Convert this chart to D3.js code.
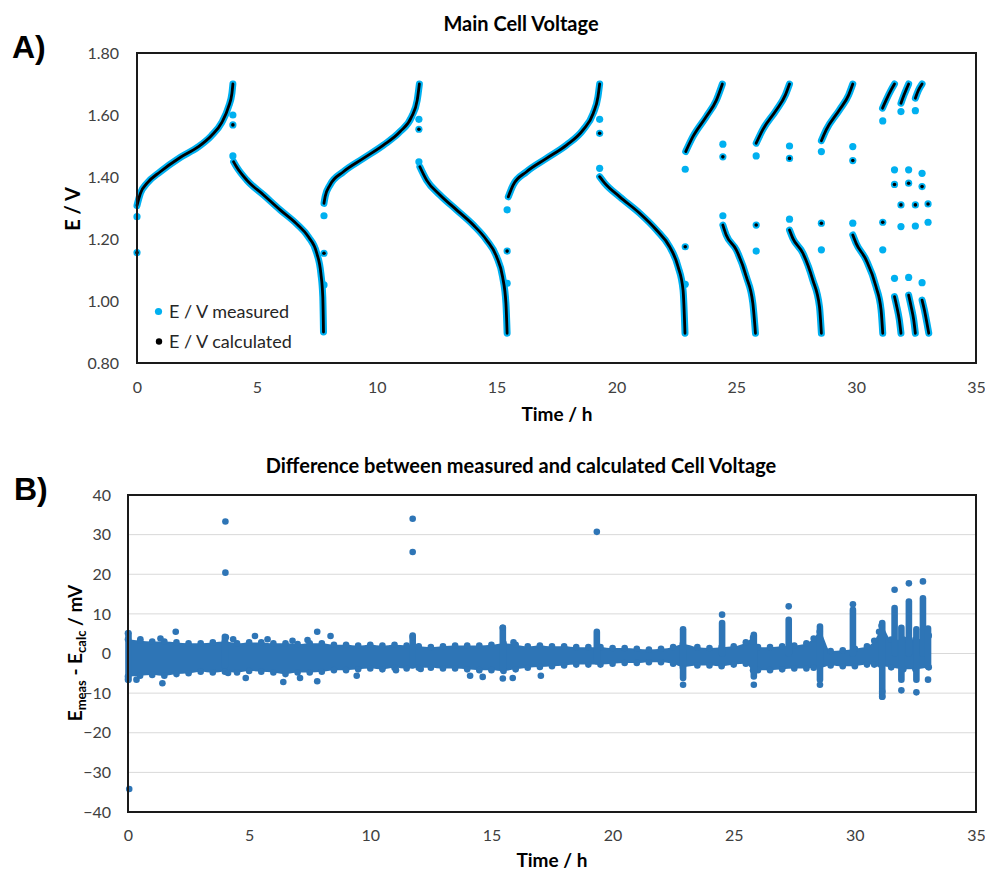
<!DOCTYPE html>
<html>
<head>
<meta charset="utf-8">
<script src="https://cdn.jsdelivr.net/npm/d3@7"></script>
<style>
  html, body { margin: 0; padding: 0; background: #fff; }
  svg { display: block; font-family: Lato, "Open Sans", sans-serif; }
</style>
</head>
<body>
<svg id="chart" width="985" height="871"></svg>
<script>
// ---------------- DATA ----------------
const xTicks = [0, 5, 10, 15, 20, 25, 30, 35];
const yTicksTop = [0.8, 1.0, 1.2, 1.4, 1.6, 1.8];
const yTicksBottom = [-40, -30, -20, -10, 0, 10, 20, 30, 40];

// Panel A: voltage curves (time h, E V)
const chargeCurves = [
  [[0,1.308],[0.14,1.347],[0.42,1.38],[0.97,1.417],[1.8,1.463],[2.55,1.497],[3.1,1.533],[3.54,1.576],[3.82,1.627],[3.96,1.67],[4.0,1.70]],
  [[7.8,1.315],[7.85,1.337],[8.05,1.374],[8.61,1.417],[9.44,1.46],[10.28,1.503],[10.97,1.546],[11.46,1.595],[11.69,1.648],[11.78,1.70]],
  [[15.49,1.336],[15.69,1.374],[16.25,1.417],[17.08,1.46],[17.92,1.503],[18.61,1.552],[19.03,1.605],[19.23,1.659],[19.3,1.70]],
  [[22.89,1.482],[23.19,1.53],[23.75,1.595],[24.17,1.648],[24.42,1.70]],
  [[25.83,1.509],[26.1,1.552],[26.67,1.616],[27.05,1.665],[27.22,1.70]],
  [[28.55,1.517],[28.75,1.552],[29.3,1.616],[29.69,1.665],[29.86,1.70]],
  [[31.1,1.622],[31.25,1.648],[31.46,1.681],[31.6,1.70]],
  [[31.87,1.638],[32.0,1.665],[32.19,1.70]],
  [[32.47,1.654],[32.6,1.68],[32.75,1.70]]
];
const dischargeCurves = [
  [[4.03,1.449],[4.15,1.433],[4.58,1.39],[5.28,1.342],[5.97,1.294],[6.67,1.248],[7.15,1.207],[7.5,1.154],[7.67,1.089],[7.75,1.014],[7.78,0.90]],
  [[11.8,1.433],[12.08,1.39],[12.64,1.342],[13.33,1.294],[14.03,1.245],[14.58,1.197],[15.0,1.143],[15.25,1.078],[15.39,0.993],[15.44,0.896]],
  [[19.3,1.401],[19.51,1.38],[20.14,1.336],[20.97,1.283],[21.67,1.229],[22.22,1.175],[22.57,1.111],[22.78,1.035],[22.86,0.896]],
  [[24.44,1.245],[24.58,1.213],[25.0,1.165],[25.42,1.078],[25.69,0.993],[25.8,0.896]],
  [[27.22,1.229],[27.36,1.202],[27.78,1.154],[28.19,1.068],[28.47,0.982],[28.55,0.896]],
  [[29.86,1.213],[30.0,1.186],[30.42,1.132],[30.83,1.046],[31.04,0.971],[31.11,0.896]],
  [[31.6,1.014],[31.7,0.98],[31.8,0.94],[31.87,0.896]],
  [[32.19,1.019],[32.3,0.98],[32.4,0.94],[32.47,0.896]],
  [[32.75,1.003],[32.85,0.97],[32.95,0.93],[33.03,0.896]]
];
// isolated points (rest / current-interruption points)
const restMeasured = [
  [0,1.272],[0,1.156],
  [4.0,1.60],[4.0,1.568],[4.0,1.468],
  [7.8,1.052],[7.8,1.154],[7.8,1.275],
  [11.76,1.586],[11.76,1.554],[11.76,1.449],
  [15.44,1.057],[15.44,1.161],[15.44,1.294],
  [19.3,1.586],[19.3,1.541],[19.3,1.428],
  [22.87,1.054],[22.87,1.175],[22.87,1.425],
  [24.44,1.506],[24.44,1.465],[24.44,1.275],
  [25.83,1.161],[25.83,1.245],[25.83,1.468],
  [27.22,1.50],[27.22,1.46],[27.22,1.264],
  [28.55,1.165],[28.55,1.251],[28.55,1.482],
  [29.86,1.498],[29.86,1.453],[29.86,1.251],
  [31.11,1.165],[31.11,1.254],[31.11,1.581],
  [31.6,1.423],[31.6,1.376],[31.6,1.073],
  [31.87,1.240],[31.87,1.310],[31.87,1.611],
  [32.19,1.423],[32.19,1.380],[32.19,1.076],
  [32.47,1.242],[32.47,1.310],[32.47,1.614],
  [32.75,1.412],[32.75,1.369],[32.75,1.059],
  [33.0,1.313],[33.0,1.254]
];
const restCalculated = [
  [0,1.156],[4.0,1.568],[7.8,1.154],[11.76,1.554],[15.44,1.161],[19.3,1.541],
  [22.87,1.175],[24.44,1.465],[25.83,1.245],[27.22,1.46],[28.55,1.251],[29.86,1.453],
  [31.11,1.254],[31.6,1.376],[31.87,1.310],[32.19,1.380],[32.47,1.310],[32.75,1.369],[33.0,1.313]
];

// Panel B: difference (mV). Dense band envelope
const bandT  = [0,0.5,1,1.5,2,2.5,3,3.5,4,4.5,5,5.5,6,6.5,7,7.5,8,8.5,9,9.5,10,10.5,11,11.5,12,12.5,13,13.5,14,14.5,15,15.5,16,16.5,17,17.5,18,18.5,19,19.5,20,20.5,21,21.5,22,22.5,22.9,23.5,24,24.5,25,25.5,25.8,26,26.5,27,27.5,28,28.3,28.55,29,29.5,30,30.5,30.8,31.0,31.1,31.5,32,32.5,33.05];
const bandHi = [3.6,3.2,3.0,3.0,2.8,2.6,2.6,2.8,3.0,2.6,2.8,2.8,2.6,2.6,2.4,2.6,2.6,2.2,2.2,2.0,2.2,2.0,2.2,2.0,1.8,1.6,1.8,2.0,2.0,2.0,2.2,2.6,2.2,1.8,2.0,1.8,1.8,1.6,1.6,1.6,1.4,1.4,1.2,1.0,1.2,1.6,2.4,1.6,1.4,1.6,1.8,2.8,4.0,1.6,1.6,1.8,2.0,2.6,3.8,5.5,0.6,0.8,1.2,1.8,3.2,5.5,7.0,3.5,3.5,3.5,4.5];
const bandLo = [-5.8,-5.6,-5.4,-5.6,-5.2,-5.0,-4.6,-4.8,-4.6,-4.8,-4.4,-4.6,-4.8,-5.2,-4.8,-4.8,-4.6,-4.2,-4.2,-4.0,-3.8,-4.0,-3.6,-3.8,-3.6,-3.6,-3.8,-3.8,-4.0,-4.2,-4.2,-4.4,-4.0,-3.6,-3.4,-3.2,-3.0,-2.8,-2.8,-2.8,-2.6,-2.4,-2.4,-2.2,-2.2,-2.6,-3.4,-3.0,-3.0,-3.2,-2.8,-2.6,-4.2,-4.2,-4.2,-4.0,-3.8,-3.8,-3.6,-3.6,-3.0,-3.2,-3.2,-2.8,-2.8,-2.6,-3.0,-3.5,-4.0,-4.0,-3.5];
// vertical clusters of points: [time, low, high]
const spikes = [
  [0.02,-6.6,5.1],[4.0,-3.0,4.2],[11.75,-3.0,4.5],[15.47,-4.0,6.5],[19.35,-2.0,5.5],
  [22.91,-6.2,6.1],[24.52,0,7.7],[25.83,-5.8,4.7],[27.27,0,8.5],[28.56,-6.6,6.8],
  [29.92,0,11.0],[31.13,-10.9,7.7],[31.64,0,11.5],[31.92,-6.6,6.5],[32.23,0,13.1],
  [32.54,-6.6,6.1],[32.81,0,13.9],[33.02,-3.3,6.3]
];
// isolated points
const diffPoints = [
  [0.05,-34.2],[4.02,33.3],[4.02,20.4],[11.75,34.0],[11.75,25.6],[19.35,30.7],
  [22.91,-7.9],[24.52,9.8],[25.83,-7.9],[27.27,11.9],[28.56,-7.9],[29.92,12.4],
  [31.13,-9.6],[31.13,-10.9],[31.64,16.1],[31.92,-9.3],[32.23,17.7],[32.54,-9.8],
  [32.81,18.2],[33.02,-6.6],
  [0,5.1],[1.97,5.5],[0.51,3.6],[1.34,3.8],[4.34,3.6],[4.04,4.1],[5.24,4.4],[5.76,3.6],
  [6.79,3.2],[7.41,3.4],[7.81,5.5],[8.36,4.4],[11.75,4.2],[15.47,6.5],[15.91,2.8],
  [0,-6.6],[0.35,-6.6],[1.42,-7.5],[4.13,-4.9],[4.86,-6.2],[6.41,-7.2],[7.81,-7.0],
  [7.1,-6.2],[9.44,-5.6],[11.06,-4.2],[12.08,-3.9],[14.12,-5.6],[14.64,-5.9],
  [15.47,-6.3],[15.88,-6.2],[17.04,-5.6]
];

// ---------------- DRAW ----------------
const svg = d3.select("#chart");
const lightBlue = "#00B0F0";
const darkBlue = "#2E75B6";
const tickColor = "#404040";

svg.append("rect").attr("width", 985).attr("height", 871).attr("fill", "#fff");

// ---- Panel A ----
const A = { l: 137, r: 976, t: 53, b: 363 };
const xA = d3.scaleLinear().domain([0, 35]).range([A.l, A.r]);
const yA = d3.scaleLinear().domain([0.8, 1.8]).range([A.b, A.t]);

svg.append("text").attr("x", 12).attr("y", 58).text("A)")
  .attr("font-family", "Liberation Sans, Arial, sans-serif").attr("font-weight", "bold").attr("font-size", 32);
svg.append("text").attr("x", 521).attr("y", 31).attr("text-anchor", "middle")
  .attr("font-weight", "bold").attr("font-size", 20).text("Main Cell Voltage");

const axA_x = svg.append("g").attr("transform", `translate(0,${A.b})`)
  .call(d3.axisBottom(xA).tickValues(xTicks).tickSize(0).tickPadding(19).tickFormat(d3.format("d")));
const axA_y = svg.append("g").attr("transform", `translate(${A.l},0)`)
  .call(d3.axisLeft(yA).tickValues(yTicksTop).tickSize(0).tickPadding(18).tickFormat(d3.format(".2f")));
[axA_x, axA_y].forEach(g => {
  g.select(".domain").remove();
  g.selectAll("text").attr("font-size", 16).attr("fill", tickColor).attr("font-family", "Lato, sans-serif");
});

const lineA = d3.line().x(d => xA(d[0])).y(d => yA(d[1])).curve(d3.curveMonotoneX);
const allCurves = chargeCurves.concat(dischargeCurves);
const gA = svg.append("g");
gA.selectAll("path.meas").data(allCurves).join("path").attr("class", "meas")
  .attr("d", lineA).attr("fill", "none").attr("stroke", lightBlue)
  .attr("stroke-width", 7).attr("stroke-linecap", "round").attr("stroke-linejoin", "round");
gA.selectAll("circle.rm").data(restMeasured).join("circle").attr("class", "rm")
  .attr("cx", d => xA(d[0])).attr("cy", d => yA(d[1])).attr("r", 3.6).attr("fill", lightBlue);
gA.selectAll("path.calc").data(allCurves).join("path").attr("class", "calc")
  .attr("d", lineA).attr("fill", "none").attr("stroke", "#000")
  .attr("stroke-width", 2.8).attr("stroke-linecap", "round").attr("stroke-linejoin", "round");
gA.selectAll("circle.rc").data(restCalculated).join("circle").attr("class", "rc")
  .attr("cx", d => xA(d[0])).attr("cy", d => yA(d[1])).attr("r", 1.8).attr("fill", "#000");

svg.append("rect").attr("x", A.l).attr("y", A.t).attr("width", A.r - A.l).attr("height", A.b - A.t)
  .attr("fill", "none").attr("stroke", "#1a1a1a").attr("stroke-width", 2);

// legend
const legend = svg.append("g");
legend.append("circle").attr("cx", 158.5).attr("cy", 311.5).attr("r", 3.6).attr("fill", lightBlue);
legend.append("text").attr("x", 169).attr("y", 318).attr("font-size", 18).attr("fill", "#262626").text("E / V measured");
legend.append("circle").attr("cx", 159).attr("cy", 341.5).attr("r", 3.2).attr("fill", "#000");
legend.append("text").attr("x", 169).attr("y", 348).attr("font-size", 18).attr("fill", "#262626").text("E / V calculated");

svg.append("text").attr("x", 557).attr("y", 421).attr("text-anchor", "middle")
  .attr("font-weight", "bold").attr("font-size", 19).text("Time / h");
svg.append("text").attr("transform", "translate(80,209) rotate(-90)").attr("text-anchor", "middle")
  .attr("font-weight", "bold").attr("font-size", 20).text("E / V");

// ---- Panel B ----
const B = { l: 128, r: 976, t: 495, b: 812 };
const xB = d3.scaleLinear().domain([0, 35]).range([B.l, B.r]);
const yB = d3.scaleLinear().domain([-40, 40]).range([B.b, B.t]);

svg.append("text").attr("x", 14).attr("y", 500).text("B)")
  .attr("font-family", "Liberation Sans, Arial, sans-serif").attr("font-weight", "bold").attr("font-size", 32);
svg.append("text").attr("x", 521).attr("y", 473).attr("text-anchor", "middle")
  .attr("font-weight", "bold").attr("font-size", 20).text("Difference between measured and calculated Cell Voltage");

// gridlines
svg.append("g").selectAll("line").data(yTicksBottom.filter(v => v > -40 && v < 40)).join("line")
  .attr("x1", B.l).attr("x2", B.r).attr("y1", d => yB(d)).attr("y2", d => yB(d))
  .attr("stroke", "#d9d9d9").attr("stroke-width", 1);

const axB_x = svg.append("g").attr("transform", `translate(0,${B.b})`)
  .call(d3.axisBottom(xB).tickValues(xTicks).tickSize(0).tickPadding(18).tickFormat(d3.format("d")));
const axB_y = svg.append("g").attr("transform", `translate(${B.l},0)`)
  .call(d3.axisLeft(yB).tickValues(yTicksBottom).tickSize(0).tickPadding(17).tickFormat(d3.format("d")));
[axB_x, axB_y].forEach(g => {
  g.select(".domain").remove();
  g.selectAll("text").attr("font-size", 16).attr("fill", tickColor).attr("font-family", "Lato, sans-serif");
});

const band = bandT.map((t, i) => ({ t, hi: bandHi[i], lo: bandLo[i] }));
const gB = svg.append("g");
gB.append("path").datum(band)
  .attr("d", d3.area().x(d => xB(d.t)).y0(d => yB(d.lo)).y1(d => yB(d.hi)).curve(d3.curveMonotoneX))
  .attr("fill", darkBlue);
gB.selectAll("circle.hi").data(band).join("circle").attr("class", "hi")
  .attr("cx", d => xB(d.t)).attr("cy", d => yB(d.hi)).attr("r", 3.3).attr("fill", darkBlue);
gB.selectAll("circle.lo").data(band).join("circle").attr("class", "lo")
  .attr("cx", d => xB(d.t)).attr("cy", d => yB(d.lo)).attr("r", 3.3).attr("fill", darkBlue);
gB.selectAll("line.spk").data(spikes).join("line").attr("class", "spk")
  .attr("x1", d => xB(d[0])).attr("x2", d => xB(d[0]))
  .attr("y1", d => yB(d[1])).attr("y2", d => yB(d[2]))
  .attr("stroke", darkBlue).attr("stroke-width", 6.6).attr("stroke-linecap", "round");
gB.selectAll("circle.pt").data(diffPoints).join("circle").attr("class", "pt")
  .attr("cx", d => xB(d[0])).attr("cy", d => yB(d[1])).attr("r", 3.3).attr("fill", darkBlue);

svg.append("rect").attr("x", B.l).attr("y", B.t).attr("width", B.r - B.l).attr("height", B.b - B.t)
  .attr("fill", "none").attr("stroke", "#1a1a1a").attr("stroke-width", 2);

svg.append("text").attr("x", 552).attr("y", 867).attr("text-anchor", "middle")
  .attr("font-weight", "bold").attr("font-size", 19).text("Time / h");

const yl = svg.append("text").attr("transform", "translate(82,653) rotate(-90)").attr("text-anchor", "middle")
  .attr("font-weight", "bold").attr("font-size", 19);
yl.append("tspan").text("E");
yl.append("tspan").attr("font-size", 13).attr("dy", 4).text("meas");
yl.append("tspan").attr("dy", -4).text(" - E");
yl.append("tspan").attr("font-size", 13).attr("dy", 4).text("calc");
yl.append("tspan").attr("dy", -4).text(" / mV");
</script>
</body>
</html>
